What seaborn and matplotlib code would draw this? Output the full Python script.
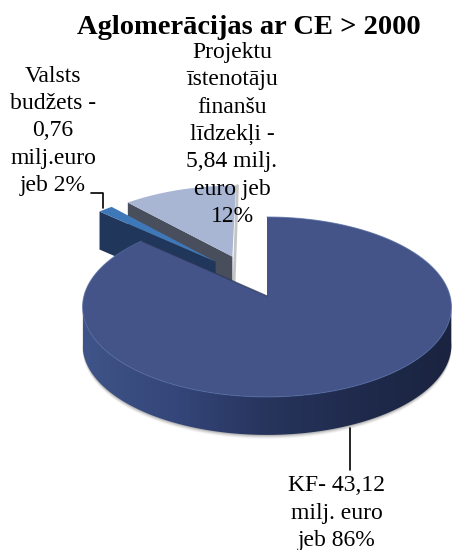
import matplotlib
matplotlib.use("Agg")
import matplotlib.pyplot as plt
from matplotlib.colors import ListedColormap
from matplotlib.patches import PathPatch
from matplotlib.path import Path
import numpy as np
import seaborn as sns

title = "Aglomerācijas ar CE > 2000"
values = [43.12, 0.76, 5.84]
labels = ["KF- 43,12\nmilj. euro\njeb 86%",
          "Valsts\nbudžets -\n0,76\nmilj.euro\njeb 2%",
          "Projektu\nīstenotāju\nfinanšu\nlīdzekļi -\n5,84 milj.\neuro jeb\n12%"]
label_pos = [(337, 513), (53, 131), (232, 134.5)]
offsets = [(0, 0), (-0.295, 0.407), (-0.2, 0.47)]
top_colors = ["#445488", "#3f78b8", "#a8b6d4"]
side_colors = ["#20365a", "#20365a", "#494e5c"]
big_side = ["#3f5488", "#34467a", "#27345c", "#1f2a4c", "#1a2440"]

# tilted pie: radius 1 circle -> pixels
k = 0.122
x0, y0, sx, sy = 267, 296, 183, 88.6
depth = 38


def project(x, y):
    w = 1 + k * y
    return x0 + sx * x / w, y0 - sy * y / w


sns.set_style("white")
plt.rcParams["font.family"] = ["Liberation Serif", "DejaVu Serif"]

fig = plt.figure(figsize=(4.53, 5.5), dpi=100)
ax = fig.add_axes([0, 0, 1, 1])

wedges, _ = ax.pie(values, startangle=90, counterclock=False)
angles = [(w.theta1, w.theta2) for w in wedges]
for w in wedges:
    w.remove()
ax.set_aspect("auto")
ax.set_xlim(0, 453)
ax.set_ylim(550, 0)
ax.axis("off")


def slice_outline(i):
    t = np.radians(np.linspace(angles[i][0], angles[i][1], 300))
    x = np.r_[0, np.cos(t), 0] + offsets[i][0]
    y = np.r_[0, np.sin(t), 0] + offsets[i][1]
    return project(x, y)


# back slices first, big one last
for i in [2, 1, 0]:
    px, py = slice_outline(i)
    if i != 0:
        # only the cut face on the left shows
        fx = [px[-2], px[0], px[0], px[-2]]
        fy = [py[-2], py[0], py[0] + depth, py[-2] + depth]
        if i == 2:
            ax.plot([px[1] + 1.5, px[0] + 1.5], [py[1], py[0] + depth - 8], color="#c4c4c4", lw=2, zorder=1)
            fy[2] = py[0] + 26
        ax.fill(fx, fy, color=side_colors[i], lw=0, zorder=2 + (2 - i))
    else:
        t = np.radians(np.linspace(185, 355, 300))
        ax_, ay_ = project(np.cos(t), np.sin(t))
        # soft shadow along the bottom rim
        for s, a in zip([4, 3, 2, 1], [0.06, 0.1, 0.14, 0.2]):
            ax.fill(np.r_[ax_, ax_[::-1]], np.r_[ay_ + depth + s, ay_[::-1]],
                    color="#555555", alpha=a, lw=0, zorder=4)
        verts = np.c_[np.r_[ax_, ax_[::-1]], np.r_[ay_, ay_[::-1] + depth]]
        clip = PathPatch(Path(np.r_[verts, verts[:1]], closed=True), fc="none", ec="none",
                         transform=ax.transData)
        ax.add_patch(clip)
        cmap = ListedColormap(sns.blend_palette(big_side, n_colors=256))
        im = ax.imshow(np.linspace(0, 1, 256)[None, :], cmap=cmap, aspect="auto",
                       extent=(ax_.min(), ax_.max(), ay_.max() + depth, ay_.min()), zorder=5)
        im.set_clip_path(clip)
        ax.set_xlim(0, 453)
        ax.set_ylim(550, 0)
    ax.fill(px, py, color=top_colors[i], lw=0, zorder=6 if i == 0 else 3 + (2 - i) + 0.5)

# rim highlight and notch edge on the big slice
px, py = slice_outline(0)
ax.plot(px[1:-1], py[1:-1], color="#5068a0", lw=0.8, alpha=0.7, zorder=7)
ax.plot(px[:2], py[:2], color="#2c3658", lw=1, alpha=0.7, zorder=7)

# leader lines
ax.plot([350, 350], [428, 470], color="black", lw=1.2, zorder=8)
ax.plot([91, 103, 103], [193, 193, 208], color="black", lw=1.2, zorder=8)

for lab, (lx, ly) in zip(labels, label_pos):
    ax.text(lx, ly, lab, fontsize=17, ha="center", va="center", linespacing=1.39,
            color="black", zorder=9)
ax.text(249, 27, title, fontsize=20.5, fontweight="bold", ha="center", va="center", color="black", zorder=9)

fig.savefig("out.png", dpi=100)
